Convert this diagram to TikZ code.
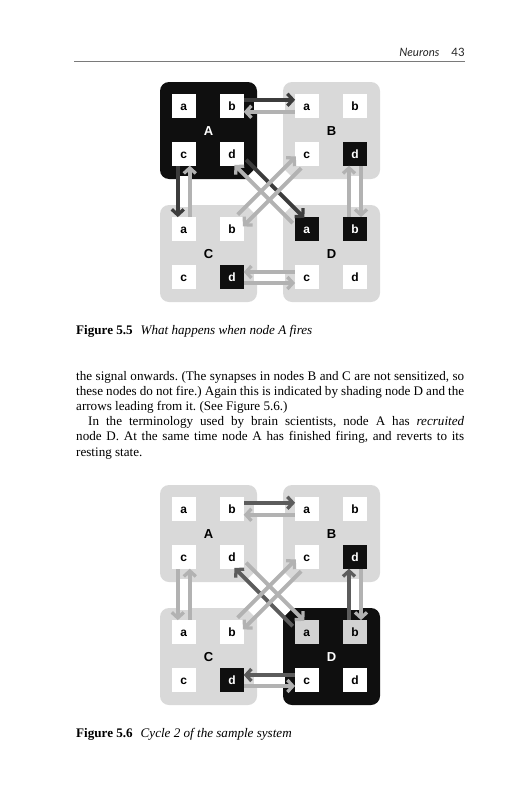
\documentclass[tikz,border=0pt]{standalone}
\usepackage{fontspec}
\setmainfont{Liberation Serif}
\newfontfamily\lblfont{Liberation Sans}
\newfontfamily\hdrfont{Lato}
\usetikzlibrary{arrows.meta}
\pgfdeclarelayer{bg}
\pgfdeclarelayer{boxes}
\pgfdeclarelayer{bands}
\pgfsetlayers{bg,boxes,bands,main}
\definecolor{boxgray}{HTML}{D9D9D9}
\definecolor{arrlight}{HTML}{B2B2B2}
\definecolor{arrdarkA}{HTML}{3C3C3C}
\definecolor{arrdarkB}{HTML}{5C5C5C}
\definecolor{nblack}{HTML}{0F0F0F}
\definecolor{sqgray}{HTML}{D2D2D2}
\definecolor{rulegray}{HTML}{7A7A7A}
% #1 prefix, #2 letter, #3 x, #4 y, #5 box style, #6-#9 square styles
\newcommand\nbox[9]{%
  \begin{pgfonlayer}{boxes}\node[#5] (#1#2) at (#3+48.5,#4+48.5) {};\end{pgfonlayer}
  \node[#5lbl] (#1#2l) at (#3+48.5,#4+48.5) {#2};
  \node[#6] (#1#2a) at (#3+23.8,#4+23.8) {a};
  \node[#7] (#1#2b) at (#3+72,#4+23.8) {b};
  \node[#8] (#1#2c) at (#3+23.8,#4+72) {c};
  \node[#9] (#1#2d) at (#3+72,#4+72) {d};
}
\begin{document}
\frenchspacing
\begin{tikzpicture}[x=1pt,y=-1pt,
  bigbox/.style={minimum size=97pt, inner sep=0pt, rounded corners=9pt},
  boxG/.style={bigbox, fill=boxgray},
  boxK/.style={bigbox, fill=nblack},
  lblbase/.style={inner sep=0pt, font=\lblfont\bfseries\fontsize{13}{13}\selectfont, text height=9.3pt, text depth=0pt},
  boxGlbl/.style={lblbase, text=black},
  boxKlbl/.style={lblbase, text=white},
  sq/.style={minimum size=23.4pt, inner sep=0pt, font=\lblfont\bfseries\fontsize{12}{12}\selectfont, text height=8.7pt, text depth=0pt},
  sqW/.style={sq, fill=white, text=black},
  sqK/.style={sq, fill=nblack, text=white},
  sqG/.style={sq, fill=sqgray, text=black},
  band/.style={draw=white, line width=14pt, shorten <=10pt, shorten >=10pt},
  arr/.style={line width=3.9pt, -{Straight Barb[length=5.5pt,width=12pt,line width=3.3pt]}},
  lt/.style={arr, draw=arrlight},
  dkA/.style={arr, draw=arrdarkA},
  dkB/.style={arr, draw=arrdarkB},
  st/.style={shorten <=12pt, shorten >=11.7pt},
  dg/.style={shorten <=14pt, shorten >=9.5pt},
  body/.style={inner sep=0pt, anchor=base west, font=\fontsize{13.1}{15.2}\selectfont},
  hdr/.style={inner sep=0pt, anchor=base east, font=\hdrfont\fontsize{11.5}{12}\selectfont, text=black!85}
]
\begin{pgfonlayer}{bg}
\fill[white] (0,0) rectangle (522,800);
\end{pgfonlayer}
\useasboundingbox (0,0) rectangle (522,800);

% header
\node[hdr] (header) at (465,56.5) {\itshape Neurons\hspace{12pt}\upshape 43};
\draw[rulegray, line width=0.8pt] (74,61.7) -- (465,61.7);

% ---------- Figure 5.5 ----------
\nbox{f}{A}{160}{82}{boxK}{sqW}{sqW}{sqW}{sqW}
\nbox{f}{B}{283}{82}{boxG}{sqW}{sqW}{sqW}{sqK}
\nbox{f}{C}{160}{205}{boxG}{sqW}{sqW}{sqW}{sqK}
\nbox{f}{D}{283}{205}{boxG}{sqK}{sqK}{sqW}{sqW}

\begin{pgfonlayer}{bands}
\draw[band] (fAb) -- (fBa);
\draw[band] (fAc) -- (fCa);
\draw[band] (fBd) -- (fDb);
\draw[band] (fCd) -- (fDc);
\draw[band] (fAd) -- (fDa);
\draw[band] (fCb) -- (fBc);
\end{pgfonlayer}

\draw[dkA, st] ([shift={(0,-6)}]fAb.center) -- ([shift={(0,-6)}]fBa.center);
\draw[lt, st] ([shift={(0,6)}]fBa.center) -- ([shift={(0,6)}]fAb.center);
\draw[dkA, st] ([shift={(-6,0)}]fAc.center) -- ([shift={(-6,0)}]fCa.center);
\draw[lt, st] ([shift={(6,0)}]fCa.center) -- ([shift={(6,0)}]fAc.center);
\draw[lt, st] ([shift={(-6,0)}]fDb.center) -- ([shift={(-6,0)}]fBd.center);
\draw[lt, st] ([shift={(6,0)}]fBd.center) -- ([shift={(6,0)}]fDb.center);
\draw[lt, st] ([shift={(0,-5)}]fDc.center) -- ([shift={(0,-5)}]fCd.center);
\draw[lt, st] ([shift={(0,6)}]fCd.center) -- ([shift={(0,6)}]fDc.center);
\draw[dkA, dg] ([shift={(4.24,-4.24)}]fAd.center) -- ([shift={(4.24,-4.24)}]fDa.center);
\draw[lt, dg] ([shift={(-4.24,4.24)}]fDa.center) -- ([shift={(-4.24,4.24)}]fAd.center);
\draw[lt, dg] ([shift={(-4.24,-4.24)}]fCb.center) -- ([shift={(-4.24,-4.24)}]fBc.center);
\draw[lt, dg] ([shift={(4.24,4.24)}]fBc.center) -- ([shift={(4.24,4.24)}]fCb.center);

\node[body] (cap1) at (76,334) {\bfseries Figure 5.5\hspace{8pt}\mdseries\itshape What happens when node A fires};

% ---------- body text ----------
\node[body] (t1) at (76,380) {\hbox to 388pt{the signal onwards. (The synapses in nodes B and C are not sensitized, so}};
\node[body] (t2) at (76,395.2) {\hbox to 388pt{these nodes do not fire.) Again this is indicated by shading node D and the}};
\node[body] (t3) at (76,410.4) {arrows leading from it. (See Figure 5.6.)};
\node[body] (t4) at (76,425.6) {\hbox to 388pt{\kern12pt In the terminology used by brain scientists, node A has \textit{recruited}}};
\node[body] (t5) at (76,440.8) {\hbox to 388pt{node D. At the same time node A has finished firing, and reverts to its}};
\node[body] (t6) at (76,456) {resting state.};

% ---------- Figure 5.6 ----------
\nbox{g}{A}{160}{485}{boxG}{sqW}{sqW}{sqW}{sqW}
\nbox{g}{B}{283}{485}{boxG}{sqW}{sqW}{sqW}{sqK}
\nbox{g}{C}{160}{608}{boxG}{sqW}{sqW}{sqW}{sqK}
\nbox{g}{D}{283}{608}{boxK}{sqG}{sqG}{sqW}{sqW}

\begin{pgfonlayer}{bands}
\draw[band] (gAb) -- (gBa);
\draw[band] (gAc) -- (gCa);
\draw[band] (gBd) -- (gDb);
\draw[band] (gCd) -- (gDc);
\draw[band] (gAd) -- (gDa);
\draw[band] (gCb) -- (gBc);
\end{pgfonlayer}

\draw[dkB, st] ([shift={(0,-6)}]gAb.center) -- ([shift={(0,-6)}]gBa.center);
\draw[lt, st] ([shift={(0,6)}]gBa.center) -- ([shift={(0,6)}]gAb.center);
\draw[lt, st] ([shift={(-6,0)}]gAc.center) -- ([shift={(-6,0)}]gCa.center);
\draw[lt, st] ([shift={(6,0)}]gCa.center) -- ([shift={(6,0)}]gAc.center);
\draw[dkB, st] ([shift={(-6,0)}]gDb.center) -- ([shift={(-6,0)}]gBd.center);
\draw[lt, st] ([shift={(6,0)}]gBd.center) -- ([shift={(6,0)}]gDb.center);
\draw[dkB, st] ([shift={(0,-5)}]gDc.center) -- ([shift={(0,-5)}]gCd.center);
\draw[lt, st] ([shift={(0,6)}]gCd.center) -- ([shift={(0,6)}]gDc.center);
\draw[lt, dg] ([shift={(4.24,-4.24)}]gAd.center) -- ([shift={(4.24,-4.24)}]gDa.center);
\draw[dkB, dg] ([shift={(-4.24,4.24)}]gDa.center) -- ([shift={(-4.24,4.24)}]gAd.center);
\draw[lt, dg] ([shift={(-4.24,-4.24)}]gCb.center) -- ([shift={(-4.24,-4.24)}]gBc.center);
\draw[lt, dg] ([shift={(4.24,4.24)}]gBc.center) -- ([shift={(4.24,4.24)}]gCb.center);

\node[body] (cap2) at (76,737) {\bfseries Figure 5.6\hspace{8pt}\mdseries\itshape Cycle 2 of the sample system};
\end{tikzpicture}
\end{document}
